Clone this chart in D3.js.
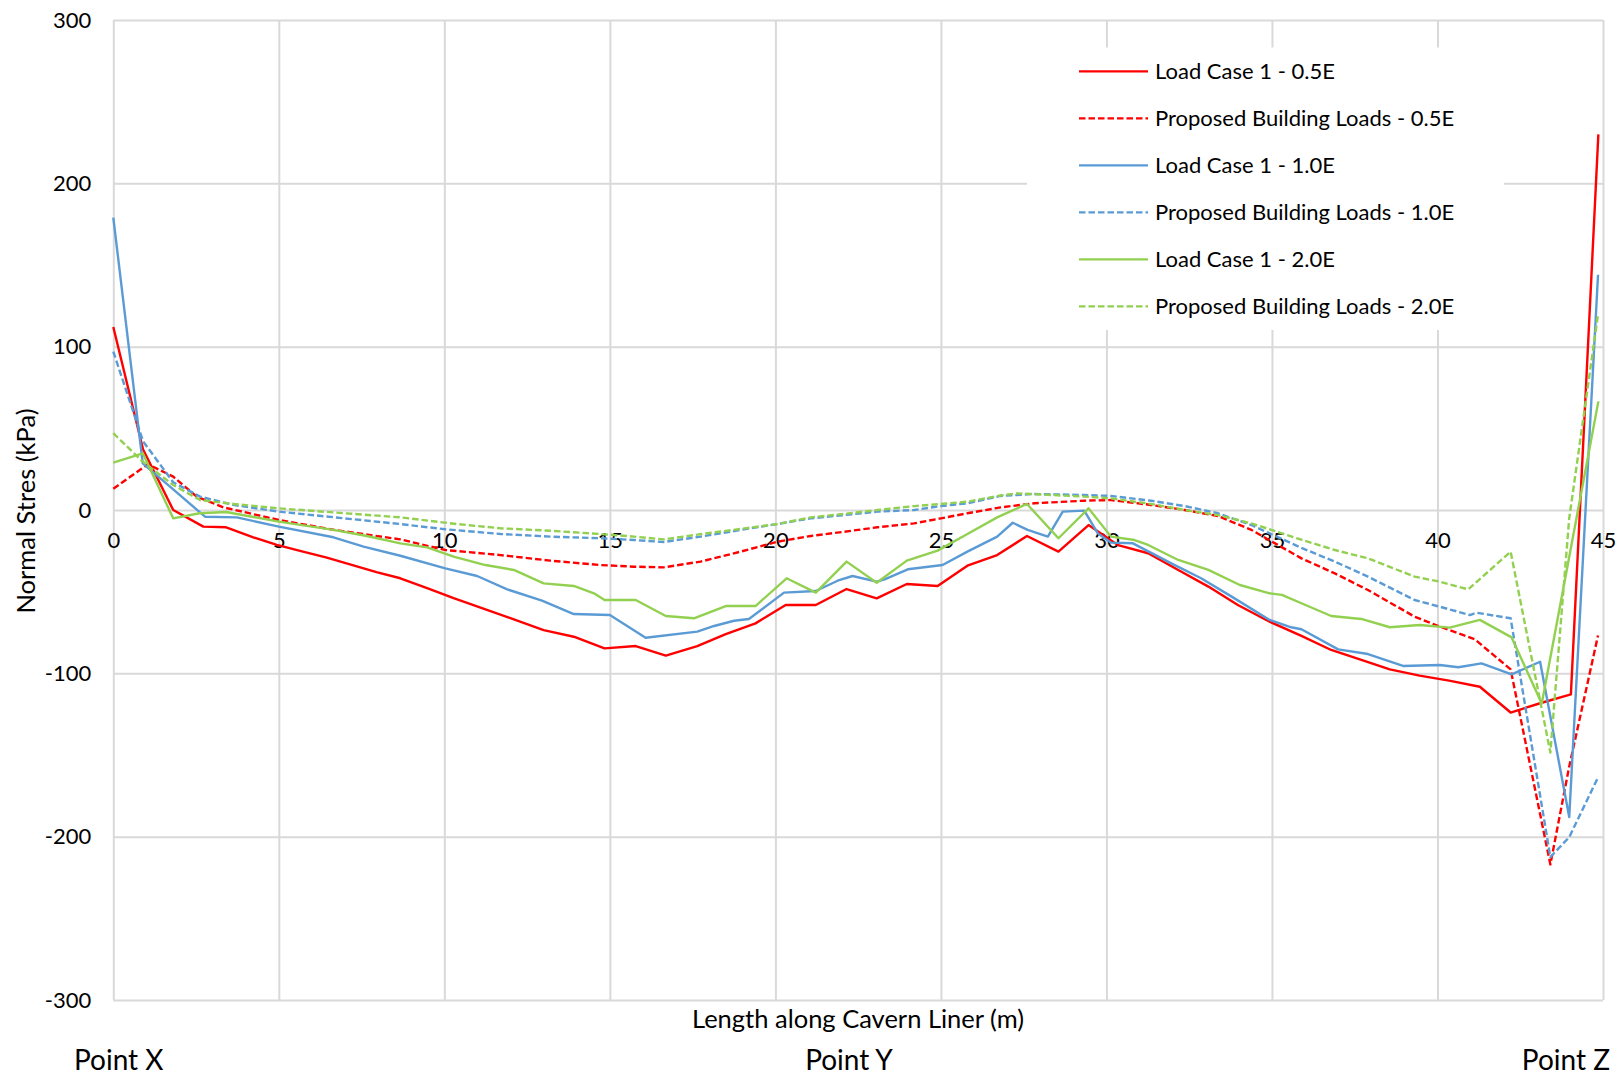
<!DOCTYPE html>
<html>
<head>
<meta charset="utf-8">
<script src="https://cdn.jsdelivr.net/npm/d3@7"></script>
<style>
  html, body { margin: 0; padding: 0; background: #ffffff; }
  svg { display: block; }
  text { font-family: Lato, "Open Sans", sans-serif; fill: #000; }
</style>
</head>
<body>
<svg id="chart" width="1618" height="1076"></svg>
<script>
// ---------- data ----------
const xTicks = [0, 5, 10, 15, 20, 25, 30, 35, 40, 45];
const yTicks = [-300, -200, -100, 0, 100, 200, 300];
const pointLabels = ["Point X", "Point Y", "Point Z"];

const seriesNames = [
  "Load Case 1 - 0.5E",
  "Proposed Building Loads - 0.5E",
  "Load Case 1 - 1.0E",
  "Proposed Building Loads - 1.0E",
  "Load Case 1 - 2.0E",
  "Proposed Building Loads - 2.0E"
];

// [length (m), normal stress (kPa)]
const lc05 = [[0,112],[0.9,37],[1.81,0],[2.72,-10.2],[3.41,-10.6],[4.23,-16.7],[4.94,-21.4],[5.7,-25.3],[6.45,-29.2],[7.2,-33.6],[7.95,-38],[8.67,-41.8],[9.5,-48],[10.28,-54],[11.2,-60.5],[12.1,-67],[13.0,-73.5],[13.91,-77.6],[14.84,-84.7],[15.78,-83.3],[16.69,-89.2],[17.64,-83.3],[18.5,-76],[19.4,-69.4],[20.31,-58.2],[21.22,-58.2],[22.15,-48.4],[23.06,-54.1],[23.97,-45.3],[24.9,-46.5],[25.8,-34.1],[26.7,-27.6],[27.6,-15.9],[28.55,-25.5],[29.46,-9.2],[30.35,-21.5],[31.26,-26.5],[32.17,-36.7],[33.08,-46.9],[33.97,-58.2],[34.93,-68.4],[35.89,-77.1],[36.79,-85.7],[37.7,-91.8],[38.56,-97.6],[39.46,-101.4],[40.35,-104.5],[41.28,-108.2],[42.21,-124],[43.15,-118],[44.03,-112.9],[44.86,230]];

const pb05 = [[0,13],[1.05,28],[1.81,20.4],[2.52,8.2],[3.33,1.6],[5.0,-6.1],[6.65,-12.1],[8.67,-18],[10.03,-24.5],[11.7,-27.6],[13.2,-31],[14.72,-33.7],[15.73,-34.7],[16.63,-35.1],[17.74,-31.6],[18.95,-25.5],[20.06,-19.4],[21.07,-15.9],[22.08,-13.3],[23.08,-10.6],[24.19,-8.2],[25.0,-5.1],[25.8,-2],[26.8,1.6],[27.82,4.1],[29.33,5.7],[30.14,6.1],[31.35,3.1],[32.36,0],[33.37,-3.7],[34.38,-12.2],[35.89,-29.6],[36.9,-38.8],[37.9,-49],[39.31,-65.3],[40.07,-71.4],[41.13,-79.2],[42.21,-97.6],[43.41,-217],[43.98,-157],[44.85,-76.8]];

const lc10 = [[0,179],[0.89,28.6],[1.81,12.6],[2.77,-4.1],[3.73,-4.5],[5.0,-10.2],[6.65,-16.7],[7.56,-22.4],[8.67,-28],[10.03,-35.7],[10.99,-40.4],[11.9,-48.6],[12.95,-55.5],[13.91,-63.7],[15.0,-64.3],[16.08,-78.2],[17.64,-74.5],[18.15,-71],[18.75,-67.8],[19.2,-66.7],[20.26,-50.6],[21.22,-49.6],[21.88,-43.3],[22.33,-40.4],[23.06,-43.9],[23.3,-42.5],[24.0,-36.3],[25.05,-33.7],[25.8,-25.5],[26.7,-16.3],[27.17,-7.8],[27.62,-12.2],[28.23,-16.3],[28.68,-1],[29.33,-0.4],[29.74,-14.3],[30.14,-20],[30.8,-20.4],[31.96,-32.7],[32.86,-41.8],[33.87,-54.1],[34.93,-67.3],[35.58,-71.8],[35.89,-73],[37.0,-85.3],[37.9,-88.2],[38.96,-95.5],[40.07,-94.9],[40.63,-96.3],[41.33,-93.9],[42.24,-100.6],[43.1,-92.9],[43.98,-188],[44.85,144]];

const pb10 = [[0,97],[0.9,42],[1.81,17],[2.62,8.2],[3.63,3.1],[5.0,-1],[8.67,-8.6],[10.03,-11.8],[11.7,-14.7],[13.2,-16.3],[14.72,-17.3],[15.73,-18.4],[16.63,-19.6],[17.74,-16.3],[18.95,-12.2],[20.06,-8.6],[21.07,-5.1],[22.08,-3.1],[23.08,-1],[24.19,0],[25.0,2.4],[25.8,4.1],[26.8,8.6],[27.82,9.8],[29.33,9.2],[30.14,8.6],[31.35,5.7],[32.36,2.4],[33.37,-2],[34.38,-9.2],[35.89,-23.2],[36.9,-31.6],[37.9,-40.8],[39.31,-55.1],[40.07,-59.2],[40.98,-64.3],[41.18,-62.9],[42.21,-66.3],[43.41,-212.5],[43.98,-200.3],[44.85,-163.7]];

const lc20 = [[0,29],[0.89,34.7],[1.81,-5.1],[2.6,-2],[3.41,-1.2],[5.0,-7.1],[6.65,-12.2],[7.66,-15.9],[8.67,-20.4],[9.48,-22.9],[10.28,-28.6],[11.24,-33.7],[12.1,-36.7],[13.0,-44.9],[13.91,-46.5],[14.52,-51],[14.84,-55.1],[15.78,-55.1],[16.69,-64.9],[17.54,-66.3],[18.5,-58.8],[19.4,-58.8],[20.34,-41.8],[21.22,-50.6],[22.15,-31.6],[23.06,-44.5],[23.97,-31],[24.9,-24.9],[25.8,-14.7],[26.7,-4.5],[27.6,3.7],[28.55,-17.3],[29.46,1],[30.14,-16.3],[30.85,-18.4],[31.26,-21.4],[32.17,-30.6],[33.08,-36.7],[34.03,-45.9],[34.93,-51],[35.3,-52],[35.89,-57.1],[36.79,-64.9],[37.7,-66.7],[38.56,-71.8],[39.46,-70.4],[40.37,-72],[41.28,-67.3],[42.24,-78],[43.15,-118.5],[44.86,66.5]];

const pb20 = [[0,47],[0.89,29.6],[1.81,15.3],[2.62,6.1],[3.63,3.7],[5.0,1],[8.67,-4.5],[10.38,-8.6],[11.7,-11.2],[13.2,-12.7],[14.72,-14.7],[15.73,-16.3],[16.63,-18],[17.74,-14.8],[20.06,-8.6],[21.07,-4.5],[22.08,-2.4],[23.08,0],[24.19,2.4],[25.0,3.7],[25.8,5.1],[26.8,8.9],[27.32,10.2],[28.33,9.2],[29.33,8.2],[30.14,7.1],[31.35,3.7],[32.36,0],[33.37,-3.1],[34.38,-8.2],[35.89,-18.2],[36.9,-24.5],[37.9,-29.6],[39.31,-40.8],[40.07,-43.9],[40.93,-48.6],[42.21,-25.5],[43.41,-148.5],[43.98,-5],[44.85,119.8]];

const seriesData = [lc05, pb05, lc10, pb10, lc20, pb20];
const seriesColors = ["#FF0000", "#FF0000", "#5B9BD5", "#5B9BD5", "#92D050", "#92D050"];
const seriesDashed = [false, true, false, true, false, true];

// ---------- layout ----------
const svg = d3.select("#chart");
const L = 113.3, R = 1603, T = 20, B = 1000;
const x = d3.scaleLinear().domain([0, 45]).range([L, R]);
const y = d3.scaleLinear().domain([-300, 300]).range([B, T]);
const gridColor = "#d9d9d9";
const fmt = d => String(d);

// vertical gridlines
const gx = svg.append("g").attr("transform", `translate(0,${B})`)
  .call(d3.axisBottom(x).tickValues(xTicks).tickSize(-(B - T)).tickFormat(""));
gx.select(".domain").remove();
gx.selectAll(".tick line").attr("stroke", gridColor).attr("stroke-width", 2);

// horizontal gridlines + y labels
const gy = svg.append("g").attr("transform", `translate(${L},0)`)
  .call(d3.axisLeft(y).tickValues(yTicks).tickSize(-(R - L)).tickPadding(22).tickFormat(fmt));
gy.select(".domain").remove();
gy.selectAll(".tick line").attr("stroke", gridColor).attr("stroke-width", 2);
gy.selectAll(".tick text").attr("font-size", 22).attr("font-family", "Lato").attr("fill", "#000");

// x tick labels along y = 0
const gxl = svg.append("g").attr("transform", `translate(0,${y(0)})`)
  .call(d3.axisBottom(x).tickValues(xTicks).tickSize(0).tickPadding(22).tickFormat(fmt));
gxl.select(".domain").remove();
gxl.selectAll(".tick text").attr("font-size", 22).attr("font-family", "Lato").attr("fill", "#000");

// series
const line = d3.line().x(d => x(d[0])).y(d => y(d[1]));
seriesData.forEach((data, i) => {
  svg.append("path")
    .datum(data)
    .attr("d", line)
    .attr("fill", "none")
    .attr("stroke", seriesColors[i])
    .attr("stroke-width", 2.4)
    .attr("stroke-linejoin", "round")
    .attr("stroke-dasharray", seriesDashed[i] ? "6.5,3" : null);
});

// legend
const lg = svg.append("g");
lg.append("rect").attr("x", 1027).attr("y", 47.5).attr("width", 477).attr("height", 282.5).attr("fill", "#fff");
seriesNames.forEach((name, i) => {
  const ly = 71.4 + i * 47;
  lg.append("line").attr("x1", 1079).attr("x2", 1148).attr("y1", ly).attr("y2", ly)
    .attr("stroke", seriesColors[i]).attr("stroke-width", 2.4)
    .attr("stroke-dasharray", seriesDashed[i] ? "6.5,3" : null);
  lg.append("text").attr("x", 1155).attr("y", ly).attr("dy", "0.36em")
    .attr("font-size", 22).text(name);
});

// axis titles
svg.append("text").attr("transform", "translate(26,511) rotate(-90)")
  .attr("text-anchor", "middle").attr("dy", "0.36em").attr("font-size", 25.5)
  .text("Normal Stres (kPa)");
svg.append("text").attr("x", 858).attr("y", 1028).attr("text-anchor", "middle")
  .attr("font-size", 25.5).text("Length along Cavern Liner (m)");

// point labels
const px = [74, 849, 1610];
const anchors = ["start", "middle", "end"];
pointLabels.forEach((p, i) => {
  svg.append("text").attr("x", px[i]).attr("y", 1070).attr("text-anchor", anchors[i])
    .attr("font-size", 28).text(p);
});
</script>
</body>
</html>
